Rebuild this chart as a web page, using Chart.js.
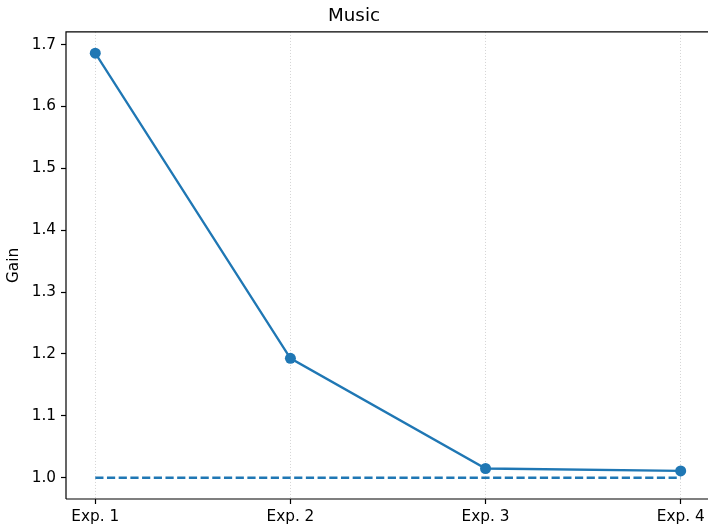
<!DOCTYPE html>
<html>
<head>
<meta charset="utf-8">
<script src="https://cdn.jsdelivr.net/npm/chart.js@4/dist/chart.umd.min.js"></script>
<style>
  html, body { margin: 0; padding: 0; background: #fff; overflow: hidden; }
  canvas { display: block; }
</style>
</head>
<body>
<canvas id="c" width="708" height="526"></canvas>
<script>
// Experiments on the x axis and the measured gain for each
const categories = ['Exp. 1', 'Exp. 2', 'Exp. 3', 'Exp. 4'];
const gain = [1.686, 1.193, 1.015, 1.011];
const baseline = [1.0, 1.0, 1.0, 1.0];
const yTicks = [1.0, 1.1, 1.2, 1.3, 1.4, 1.5, 1.6, 1.7];

const blue = '#1f77b4';
const font = 'DejaVu Sans';

// Left, top and bottom spines around the plot area
const spines = {
  id: 'spines',
  afterDraw(chart) {
    const { ctx, chartArea: a } = chart;
    ctx.save();
    ctx.strokeStyle = '#000';
    ctx.lineWidth = 1.2;
    ctx.setLineDash([]);
    ctx.beginPath();
    ctx.moveTo(a.left, a.bottom);
    ctx.lineTo(a.left, a.top);
    ctx.lineTo(a.right, a.top);
    ctx.moveTo(a.left, a.bottom);
    ctx.lineTo(a.right, a.bottom);
    ctx.stroke();
    ctx.restore();
  }
};

new Chart(document.getElementById('c'), {
  type: 'line',
  data: {
    datasets: [
      {
        label: 'Gain',
        data: gain.map((v, i) => ({ x: i, y: v })),
        borderColor: blue,
        backgroundColor: blue,
        borderWidth: 2.3,
        pointRadius: 5.5,
        pointHoverRadius: 5.5,
        pointBorderWidth: 0,
        tension: 0,
        clip: false
      },
      {
        label: 'Baseline',
        data: baseline.map((v, i) => ({ x: i, y: v })),
        borderColor: blue,
        borderWidth: 2.3,
        borderDash: [8.2, 3.5],
        pointRadius: 0,
        tension: 0
      }
    ]
  },
  options: {
    responsive: false,
    animation: false,
    layout: { autoPadding: false, padding: { left: 0, right: 0, top: 0, bottom: 0 } },
    plugins: {
      legend: { display: false },
      tooltip: { enabled: false },
      title: {
        display: true,
        text: 'Music',
        color: '#000',
        font: { family: font, size: 18.3, weight: 'normal', lineHeight: 1.2 },
        padding: { top: 5, bottom: 5 }
      }
    },
    scales: {
      x: {
        type: 'linear',
        min: -0.15,
        max: 3.14,
        afterBuildTicks(scale) {
          scale.ticks = categories.map((_, i) => ({ value: i }));
        },
        afterFit(scale) {
          scale.height = 27;
          scale.paddingLeft = 0;
          scale.paddingRight = 0;
        },
        ticks: {
          color: '#000',
          padding: 4,
          maxRotation: 0,
          font: { family: font, size: 15.3 },
          callback: (v) => categories[v] ?? ''
        },
        grid: {
          display: true,
          drawOnChartArea: true,
          drawTicks: true,
          color: '#cfcfcf',
          lineWidth: 0.9,
          tickColor: '#000',
          tickLength: 5,
          tickWidth: 1.2,
          tickBorderDash: []
        },
        border: { display: false, dash: [1, 2] }
      },
      y: {
        type: 'linear',
        min: 0.9657,
        max: 1.7203,
        afterBuildTicks(scale) {
          scale.ticks = yTicks.map(v => ({ value: v }));
        },
        afterFit(scale) {
          scale.width = 66;
          scale.paddingTop = 0;
          scale.paddingBottom = 0;
        },
        ticks: {
          color: '#000',
          padding: 5,
          font: { family: font, size: 15.3 },
          callback: (v) => v.toFixed(1)
        },
        grid: {
          display: true,
          drawOnChartArea: false,
          drawTicks: true,
          tickColor: '#000',
          tickLength: 5,
          tickWidth: 1.2
        },
        border: { display: false },
        title: {
          display: true,
          text: 'Gain',
          color: '#000',
          font: { family: font, size: 15.3 },
          padding: { top: 5, bottom: 0 }
        }
      }
    }
  },
  plugins: [spines]
});
</script>
</body>
</html>
